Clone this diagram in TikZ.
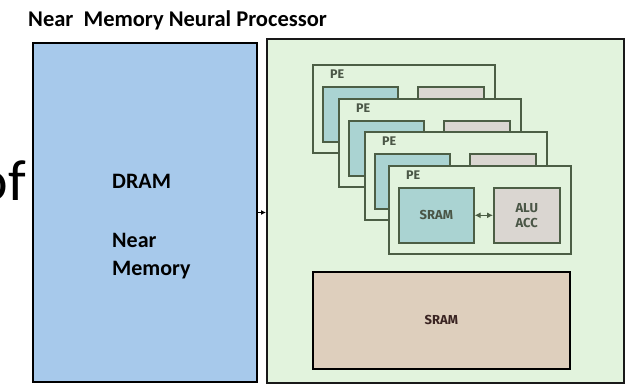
\documentclass[tikz,border=0pt]{standalone}
\usepackage{fontspec}
\setmainfont{Carlito}
\newfontfamily\pefont{Fira Sans}
\usetikzlibrary{arrows.meta,calc}
\definecolor{dramblue}{HTML}{A7C9EB}
\definecolor{bggreen}{HTML}{E2F3DD}
\definecolor{pegreen}{HTML}{4C5E45}
\definecolor{teal}{HTML}{AAD3D2}
\definecolor{alugray}{HTML}{DAD6D1}
\definecolor{beige}{HTML}{DECFBD}
\definecolor{petext}{HTML}{4A5646}
\definecolor{sramtext}{HTML}{3A2422}
\tikzset{
  box/.style={draw, rectangle, inner sep=0pt, anchor=north west},
  pe/.style={box, draw=pegreen, line width=1.6pt, fill=bggreen, minimum width=182pt, minimum height=88pt},
  smsram/.style={box, draw=pegreen, line width=1.6pt, fill=teal, minimum width=75pt, minimum height=55pt},
  alu/.style={box, draw=pegreen, line width=1.6pt, fill=alugray, minimum width=66pt, minimum height=55pt},
  pelabel/.style={inner sep=0pt, anchor=west, text=petext, font=\pefont\bfseries\fontsize{12.5}{13}\selectfont},
  petxt/.style={text=petext, font=\pefont\bfseries\fontsize{13}{16}\selectfont, align=center},
  dramtxt/.style={inner sep=0pt, anchor=base west, font=\bfseries\fontsize{22}{24}\selectfont},
}
\newcommand\pebox[5]{%
  \node[pe] (#1) at (#2,#3) {};
  \node[pelabel] (#1l) at ($(#1.north west)+(18,10.5)$) {PE};
  \node[smsram, petxt] (#1s) at ($(#1.north west)+(10,22)$) {#4};
  \node[alu, petxt] (#1a) at ($(#1.north west)+(105,22)$) {#5};
}
\begin{document}
\begin{tikzpicture}[x=1pt,y=-1pt]
\useasboundingbox[fill=white] (0,0) rectangle (639,383);
\node[anchor=base west, inner sep=0pt, font=\bfseries\fontsize{22.5}{24}\selectfont] (title) at (28,26) {Near\ \ Memory Neural Processor};
\node[anchor=base east, inner sep=0pt, font=\fontsize{58}{60}\selectfont] (of) at (26,200) {of};
\node[box, line width=2pt, fill=dramblue, minimum width=224pt, minimum height=339pt] (dram) at (32,42) {};
\node[dramtxt] (t1) at (112,188) {DRAM};
\node[dramtxt] (t2) at (112,247) {Near};
\node[dramtxt] (t3) at (112,275) {Memory};
\node[box, draw=black!90, line width=1.8pt, fill=bggreen, minimum width=357pt, minimum height=344pt] (proc) at (266,38) {};
\draw[line width=1pt, -{Latex[length=5pt,width=5pt]}] (dram.east) -- (dram.east -| proc.west);
\pebox{pea}{312}{64}{}{}
\pebox{peb}{338}{98}{}{}
\pebox{pec}{364}{131}{}{}
\pebox{ped}{388}{165}{SRAM}{ALU\\[-1pt]ACC}
\draw[pegreen, line width=1.5pt, {Latex[length=6pt,width=6pt]}-{Latex[length=6pt,width=6pt]}] (peds.east) -- (peda.west);
\node[box, line width=1.6pt, fill=beige, minimum width=257pt, minimum height=97pt] (sram) at (312,271) {};
\node[text=sramtext, font=\pefont\bfseries\fontsize{13}{15}\selectfont] (sramt) at (sram.center) {SRAM};
\end{tikzpicture}
\end{document}
